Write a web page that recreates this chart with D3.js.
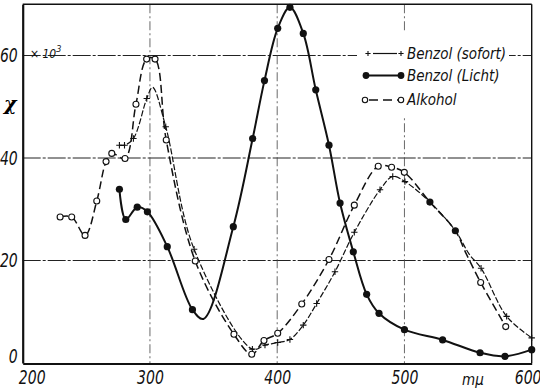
<!DOCTYPE html>
<html>
<head>
<meta charset="utf-8">
<script src="https://cdn.jsdelivr.net/npm/d3@7/dist/d3.min.js"></script>
<style>
  body { margin: 0; background: #fff; }
  svg { display: block; }
  .lbl { font-family: "Liberation Sans Narrow", "DejaVu Sans Condensed", "DejaVu Sans", sans-serif; font-style: italic; font-stretch: condensed; fill: #111; }
</style>
</head>
<body>
<div id="chart"></div>
<script>
// Daten: [Wellenlänge mµ, χ·10^3, Marke] -- Marke 1 = normal, 0 = ohne, 2 = gemeinsamer Punkt
const benzolLicht = [
  [276, 33.9, 1], [281, 28.0, 1], [290, 30.4, 1], [298, 29.5, 1], [313.6, 22.7, 1],
  [333.4, 10.4, 1], [342, 8.6, 0], [365.5, 26.6, 1], [380.7, 43.8, 1], [390, 55.1, 1],
  [400.4, 65.3, 1], [410, 69.4, 1], [420.5, 64.3, 1], [430.3, 53.3, 1], [440.7, 42.5, 1],
  [449.4, 31.2, 1], [459.8, 21.7, 1], [470.3, 13.4, 1], [480, 9.7, 1], [500, 6.5, 1],
  [530, 4.5, 1], [559.4, 2.0, 1], [579, 1.3, 1], [600, 2.6, 1]
];
const benzolSofort = [
  [276, 42.5, 1], [280, 42.5, 1], [287, 43.8, 1], [297.5, 51.6, 1], [302, 53.8, 0],
  [312.4, 46.1, 1], [334.7, 22.2, 1], [380.5, 2.7, 1], [390.4, 3.5, 1], [400.4, 4.0, 1],
  [410, 4.6, 1], [420.5, 7.4, 1], [431, 11.6, 1], [445.4, 17.8, 1], [460.6, 25.5, 1],
  [480.8, 33.8, 1], [490.8, 36.4, 1], [500.4, 35.4, 1], [520, 31.4, 2], [540, 25.8, 2],
  [551, 21.2, 0], [560.2, 18.5, 1], [580.3, 9.1, 1], [600, 4.9, 1]
];
const alkohol = [
  [229.4, 28.5, 1], [238.5, 28.5, 1], [249, 24.9, 1], [258.2, 31.6, 1], [265.5, 39.3, 1],
  [270, 40.9, 1], [280.4, 39.9, 1], [289, 50.5, 1], [297.4, 59.3, 1], [304, 59.3, 1],
  [312.8, 43.5, 1], [335.6, 19.9, 1], [366, 5.6, 1], [380, 1.7, 1], [389.6, 4.4, 1],
  [400.4, 5.8, 1], [419.3, 11.5, 1], [440.7, 20.2, 1], [460.6, 30.8, 1], [479.4, 38.4, 1],
  [489.9, 38.2, 1], [499.9, 37.2, 1], [520, 31.4, 2], [540, 25.8, 2], [548, 21.6, 0],
  [559.9, 15.7, 1], [579.6, 7.1, 1]
];
const xTicks = [200, 300, 400, 500, 600];
const yTicks = [0, 20, 40, 60];
const gridX = [300, 400, 500];
const gridY = [20, 40, 60];
const legendNames = ["Benzol (sofort)", "Benzol (Licht)", "Alkohol"];

const W = 540, H = 388;
const svg = d3.select("#chart").append("svg").attr("width", W).attr("height", H);

const x = d3.scaleLinear().domain([200, 600]).range([22.7, 531.7]);
const y = d3.scaleLinear().domain([0, 70]).range([363, 4.25]);

// gitter
svg.append("g").selectAll("line").data(gridY).join("line")
  .attr("x1", x(200)).attr("x2", x(600))
  .attr("y1", d => y(d)).attr("y2", d => y(d))
  .attr("stroke", "#222").attr("stroke-width", 1)
  .attr("stroke-dasharray", "18,2,3,2");
svg.append("g").selectAll("line").data(gridX).join("line")
  .attr("x1", d => x(d)).attr("x2", d => x(d))
  .attr("y1", y(70)).attr("y2", y(0))
  .attr("stroke", "#444").attr("stroke-width", 0.8)
  .attr("stroke-dasharray", "9,3,2,3");

// rahmen
svg.append("line").attr("x1", x(200)).attr("x2", x(600)).attr("y1", y(70)).attr("y2", y(70))
  .attr("stroke", "#111").attr("stroke-width", 1.4);
svg.append("line").attr("x1", x(600)).attr("x2", x(600)).attr("y1", y(70)).attr("y2", y(0))
  .attr("stroke", "#111").attr("stroke-width", 1.4);

// achsen
const xAxis = svg.append("g").attr("transform", "translate(0," + (y(0) + 0.5) + ")")
  .call(d3.axisBottom(x).tickValues(xTicks).tickSize(0).tickPadding(6));
const yAxis = svg.append("g").attr("transform", "translate(" + x(200) + ",0)")
  .call(d3.axisLeft(y).tickValues(yTicks).tickSize(0).tickPadding(6));
[xAxis, yAxis].forEach(a => {
  a.select(".domain").attr("stroke", "#111").attr("stroke-width", 2.2);
  a.selectAll("text").attr("class", "lbl").style("font-size", "19px")
    .attr("transform", "scale(0.82,1)");
});
xAxis.selectAll("text").attr("dy", "0.78em");
xAxis.selectAll("text").filter(d => d === 200).attr("x", 11);
xAxis.selectAll("text").filter(d => d === 600).attr("x", -5);
yAxis.selectAll("text").filter(d => d === 0).attr("y", -7);

// achsenbeschriftungen
svg.append("text").attr("class", "lbl").attr("x", 30).attr("y", 58)
  .style("font-size", "12px").text("× 10")
  .append("tspan").attr("dy", -6).style("font-size", "9px").text("3");
svg.append("text").attr("x", 4).attr("y", 110)
  .style("font-family", "DejaVu Serif, serif").style("font-style", "italic")
  .style("font-weight", "bold").style("font-size", "19px").text("χ");
svg.append("text").attr("class", "lbl").attr("x", 462).attr("y", 385)
  .style("font-size", "15px").text("mμ");

// kurven
const line = d3.line().x(d => x(d[0])).y(d => y(d[1])).curve(d3.curveCatmullRom.alpha(0.5));

svg.append("path").datum(alkohol).attr("d", line)
  .attr("fill", "none").attr("stroke", "#111").attr("stroke-width", 1.5)
  .attr("stroke-dasharray", "8,4");
svg.append("path").datum(benzolSofort).attr("d", line)
  .attr("fill", "none").attr("stroke", "#111").attr("stroke-width", 1.2)
  .attr("stroke-dasharray", "6,2");
svg.append("path").datum(benzolLicht).attr("d", line)
  .attr("fill", "none").attr("stroke", "#111").attr("stroke-width", 2);

// marken
function plus(g, px, py, s) {
  g.append("path").attr("d", "M" + (px - s) + "," + py + "H" + (px + s) + "M" + px + "," + (py - s) + "V" + (py + s))
    .attr("stroke", "#111").attr("stroke-width", 1.1).attr("fill", "none");
}
const marks = svg.append("g");
benzolSofort.filter(d => d[2] === 1).forEach(d => plus(marks, x(d[0]), y(d[1]), 3.2));
marks.selectAll("circle.alk").data(alkohol.filter(d => d[2] === 1)).join("circle")
  .attr("class", "alk").attr("cx", d => x(d[0])).attr("cy", d => y(d[1])).attr("r", 3)
  .attr("fill", "#fff").attr("stroke", "#111").attr("stroke-width", 1.1);
marks.selectAll("circle.licht").data(benzolLicht.filter(d => d[2] === 1)).join("circle")
  .attr("class", "licht").attr("cx", d => x(d[0])).attr("cy", d => y(d[1])).attr("r", 3.6)
  .attr("fill", "#111");
marks.selectAll("circle.shared").data(alkohol.filter(d => d[2] === 2)).join("circle")
  .attr("class", "shared").attr("cx", d => x(d[0])).attr("cy", d => y(d[1])).attr("r", 3.6)
  .attr("fill", "#111");

// legende
const leg = svg.append("g");
leg.append("rect").attr("x", 357).attr("y", 33).attr("width", 152).attr("height", 83).attr("fill", "#fff");
const rows = [53.5, 75.5, 100];
const lx1 = 366, lx2 = 401;
plus(leg, lx1 + 2, rows[0], 2.6); plus(leg, lx2, rows[0], 2.6);
leg.append("line").attr("x1", lx1 + 7).attr("x2", lx2 - 4).attr("y1", rows[0]).attr("y2", rows[0])
  .attr("stroke", "#111").attr("stroke-width", 1.2);
leg.append("line").attr("x1", lx1).attr("x2", lx2).attr("y1", rows[1]).attr("y2", rows[1])
  .attr("stroke", "#111").attr("stroke-width", 2);
leg.selectAll("circle.l2").data([lx1, lx2]).join("circle").attr("class", "l2")
  .attr("cx", d => d).attr("cy", rows[1]).attr("r", 3.4).attr("fill", "#111");
leg.append("line").attr("x1", lx1 + 3).attr("x2", lx2 - 3).attr("y1", rows[2]).attr("y2", rows[2])
  .attr("stroke", "#111").attr("stroke-width", 1.5).attr("stroke-dasharray", "9,5");
leg.selectAll("circle.l3").data([lx1 - 1, lx2]).join("circle").attr("class", "l3")
  .attr("cx", d => d).attr("cy", rows[2]).attr("r", 2.7)
  .attr("fill", "#fff").attr("stroke", "#111").attr("stroke-width", 1.1);
leg.selectAll("text").data(legendNames).join("text").attr("class", "lbl")
  .attr("x", 407).attr("y", (d, i) => rows[i] + 5)
  .style("font-size", "15px").text(d => d);
</script>
</body>
</html>
